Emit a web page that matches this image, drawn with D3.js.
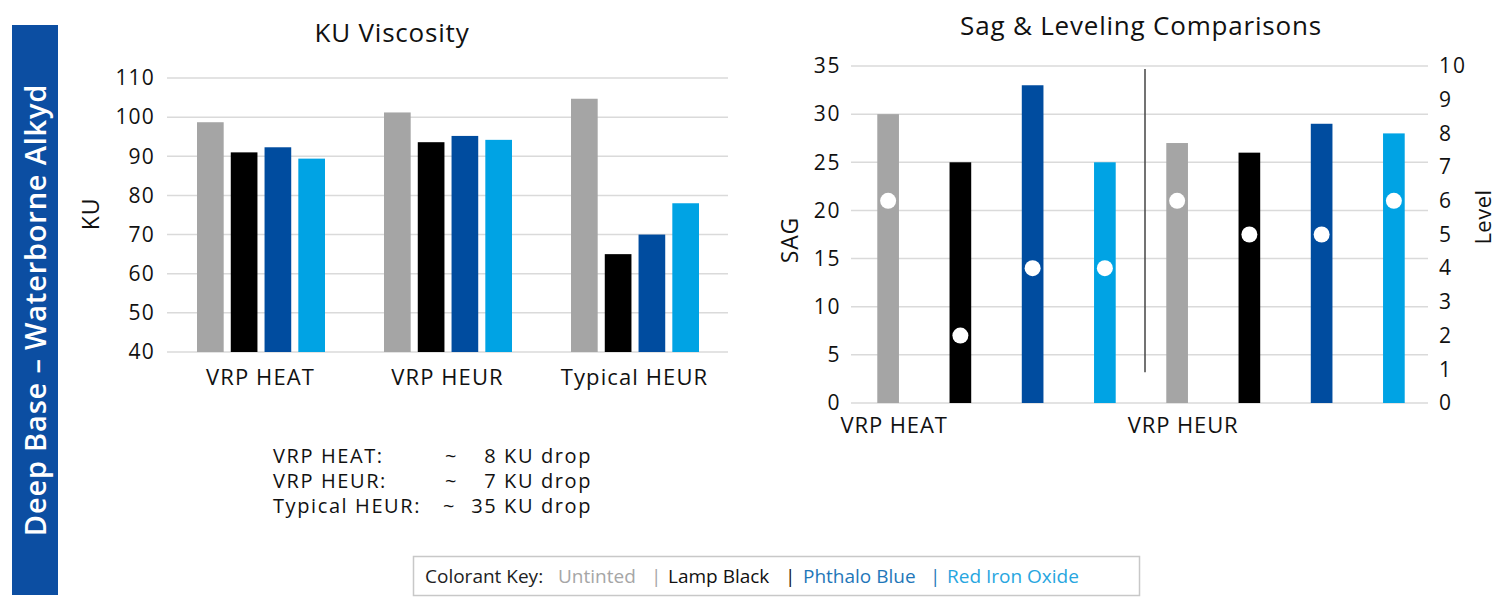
<!DOCTYPE html>
<html>
<head>
<meta charset="utf-8">
<script src="https://cdn.jsdelivr.net/npm/d3@7"></script>
<style>
  html, body { margin: 0; padding: 0; background: #fff; }
  svg { display: block; font-family: "Open Sans", sans-serif; }
</style>
</head>
<body>
<svg id="chart" width="1500" height="608"></svg>
<script>
// ---------- DATA ----------
const series = ["Untinted", "Lamp Black", "Phthalo Blue", "Red Iron Oxide"];
const seriesColors = ["#a5a5a5", "#000000", "#004c9f", "#00a3e4"];

const kuCategories = ["VRP HEAT", "VRP HEUR", "Typical HEUR"];
const kuUntinted   = [98.7, 101.2, 104.7];
const kuLampBlack  = [91, 93.6, 65];
const kuPhthalo    = [92.3, 95.2, 70];
const kuRedIron    = [89.4, 94.2, 78];
const kuTicks = [40, 50, 60, 70, 80, 90, 100, 110];

const sagGroups = ["VRP HEAT", "VRP HEUR"];
const sagValues = [[30, 25, 33, 25], [27, 26, 29, 28]];
const levelValues = [[6, 2, 4, 4], [6, 5, 5, 6]];
const sagTicks = [0, 5, 10, 15, 20, 25, 30, 35];
const levelTicks = [0, 1, 2, 3, 4, 5, 6, 7, 8, 9, 10];
const separatorRange = [3.2, 34.7]; // SAG units spanned by divider line

const dropLabels = ["VRP HEAT:", "VRP HEUR:", "Typical HEUR:"];
const dropValues = ["8 KU drop", "7 KU drop", "35 KU drop"];

const legendItems = [
  { text: "Colorant Key:", color: "#222222" },
  { text: "Untinted", color: "#a6a6a6" },
  { text: "|", color: "#a6a6a6" },
  { text: "Lamp Black", color: "#111111" },
  { text: "|", color: "#111111" },
  { text: "Phthalo Blue", color: "#1f77b9" },
  { text: "|", color: "#1f77b9" },
  { text: "Red Iron Oxide", color: "#27a6df" }
];

const svg = d3.select("#chart");
const gridColor = "#dadada";
const ink = "#111";

// ---------- BANNER ----------
svg.append("rect").attr("x", 12).attr("y", 25).attr("width", 46).attr("height", 570)
  .attr("fill", "#0c4ea2");
svg.append("text")
  .attr("transform", "translate(46,310) rotate(-90)")
  .attr("text-anchor", "middle")
  .attr("fill", "#fff")
  .attr("font-size", 29).attr("font-weight", 600).attr("letter-spacing", 0.8)
  .text("Deep Base \u2013 Waterborne Alkyd");

// ---------- LEFT CHART: KU Viscosity ----------
const kuData = kuCategories.map((c, i) => ({
  cat: c, vals: [kuUntinted[i], kuLampBlack[i], kuPhthalo[i], kuRedIron[i]]
}));
const x0 = d3.scaleBand().domain(kuCategories).range([167, 728]).padding(0);
const x1 = d3.scaleBand().domain(series).range([30, 158]).paddingInner(0.21);
const yKU = d3.scaleLinear().domain([40, 110]).range([352, 78]);

const left = svg.append("g");
left.append("g").selectAll("line").data(kuTicks).join("line")
  .attr("x1", 167).attr("x2", 728)
  .attr("y1", d => yKU(d)).attr("y2", d => yKU(d))
  .attr("stroke", gridColor).attr("stroke-width", 1.5);

const yAxisL = d3.axisLeft(yKU).tickValues(kuTicks).tickSize(0).tickPadding(0);
left.append("g").attr("transform", "translate(155,0)").call(yAxisL)
  .call(g => g.select(".domain").remove())
  .selectAll("text").attr("font-size", 21).attr("letter-spacing", 1.2)
  .attr("fill", ink).attr("font-family", "Open Sans");

left.append("g").selectAll("g").data(kuData).join("g")
  .attr("transform", d => `translate(${x0(d.cat)},0)`)
  .selectAll("rect").data(d => d.vals.map((v, j) => ({ s: series[j], v, j }))).join("rect")
  .attr("x", d => x1(d.s)).attr("width", x1.bandwidth())
  .attr("y", d => yKU(d.v)).attr("height", d => yKU(40) - yKU(d.v))
  .attr("fill", d => seriesColors[d.j]);

const xAxisL = d3.axisBottom(x0).tickSize(0).tickPadding(0);
left.append("g").attr("transform", "translate(0,385)").call(xAxisL)
  .call(g => g.select(".domain").remove())
  .selectAll("text").attr("dy", 0).attr("font-size", 22).attr("letter-spacing", 1.1)
  .attr("fill", ink).attr("font-family", "Open Sans");

left.append("text").attr("x", 392).attr("y", 42).attr("text-anchor", "middle")
  .attr("font-size", 26).attr("letter-spacing", 0.8).attr("fill", ink).text("KU Viscosity");
left.append("text").attr("transform", "translate(99,214) rotate(-90)").attr("text-anchor", "middle")
  .attr("font-size", 23).attr("letter-spacing", 0.8).attr("fill", ink).text("KU");

// drop notes
const notes = svg.append("g").attr("font-size", 20).attr("letter-spacing", 1.6).attr("fill", ink);
notes.selectAll("text.lab").data(dropLabels).join("text").attr("class", "lab")
  .attr("x", 273).attr("y", (d, i) => 463 + i * 25).text(d => d);
notes.selectAll("text.tilde").data(dropValues).join("text").attr("class", "tilde")
  .attr("x", (d, i) => i < 2 ? 445 : 443).attr("y", (d, i) => 463 + i * 25).text("~");
notes.selectAll("text.val").data(dropValues).join("text").attr("class", "val")
  .attr("x", 592).attr("y", (d, i) => 463 + i * 25).attr("text-anchor", "end").text(d => d);

// ---------- RIGHT CHART: Sag & Leveling ----------
const slots = [];
sagGroups.forEach((g, gi) => series.forEach((s, si) => slots.push({
  id: g + "|" + s, group: g, gi, si, sag: sagValues[gi][si], level: levelValues[gi][si]
})));
const xs = d3.scaleBand().domain(slots.map(d => d.id)).range([852, 1430])
  .paddingInner(0.7).paddingOuter(0.35);
const ySag = d3.scaleLinear().domain([0, 35]).range([403, 66]);
const yLev = d3.scaleLinear().domain([0, 10]).range([403, 66]);

const right = svg.append("g");
right.append("g").selectAll("line").data(sagTicks).join("line")
  .attr("x1", 851).attr("x2", 1428)
  .attr("y1", d => ySag(d)).attr("y2", d => ySag(d))
  .attr("stroke", gridColor).attr("stroke-width", 1.5);

right.append("g").attr("transform", "translate(841,0)")
  .call(d3.axisLeft(ySag).tickValues(sagTicks).tickSize(0).tickPadding(0))
  .call(g => g.select(".domain").remove())
  .selectAll("text").attr("font-size", 21).attr("letter-spacing", 1.6)
  .attr("fill", ink).attr("font-family", "Open Sans");

right.append("g").attr("transform", "translate(1439,0)")
  .call(d3.axisRight(yLev).tickValues(levelTicks).tickSize(0).tickPadding(0))
  .call(g => g.select(".domain").remove())
  .selectAll("text").attr("font-size", 21).attr("letter-spacing", 2)
  .attr("fill", ink).attr("font-family", "Open Sans");

right.append("g").selectAll("rect").data(slots).join("rect")
  .attr("x", d => xs(d.id)).attr("width", xs.bandwidth())
  .attr("y", d => ySag(d.sag)).attr("height", d => ySag(0) - ySag(d.sag))
  .attr("fill", d => seriesColors[d.si]);

right.append("g").selectAll("circle").data(slots).join("circle")
  .attr("cx", d => xs(d.id) + xs.bandwidth() / 2).attr("cy", d => yLev(d.level))
  .attr("r", 8).attr("fill", "#fff");

// separator line between groups
const sepX = (xs(slots[3].id) + xs.bandwidth() + xs(slots[4].id)) / 2 + 4;
right.append("line").attr("x1", sepX).attr("x2", sepX)
  .attr("y1", ySag(separatorRange[1])).attr("y2", ySag(separatorRange[0]))
  .attr("stroke", "#444").attr("stroke-width", 1.5);

// group labels
right.append("g").selectAll("text").data(sagGroups).join("text")
  .attr("x", (d, i) => xs(slots[i * 4].id) + xs.bandwidth() / 2 + 6)
  .attr("y", 433).attr("text-anchor", "middle")
  .attr("font-size", 22).attr("letter-spacing", 0.9).attr("fill", ink).text(d => d);

right.append("text").attr("x", 1141).attr("y", 35).attr("text-anchor", "middle")
  .attr("font-size", 26).attr("letter-spacing", 0.8).attr("fill", ink).text("Sag & Leveling Comparisons");
right.append("text").attr("transform", "translate(798,240) rotate(-90)").attr("text-anchor", "middle")
  .attr("font-size", 23).attr("letter-spacing", 0.8).attr("fill", ink).text("SAG");
right.append("text").attr("transform", "translate(1491,217) rotate(-90)").attr("text-anchor", "middle")
  .attr("font-size", 22).attr("letter-spacing", 0.5).attr("fill", ink).text("Level");

// ---------- LEGEND ----------
svg.append("rect").attr("x", 413.5).attr("y", 556.5).attr("width", 726).attr("height", 39)
  .attr("fill", "#fff").attr("stroke", "#c8c8c8").attr("stroke-width", 1.5);
const legendX = [425, 558, 651, 668, 785, 803, 930, 947];
svg.append("g").selectAll("text").data(legendItems).join("text")
  .attr("x", (d, i) => legendX[i]).attr("y", 583)
  .attr("font-size", 19).attr("fill", d => d.color).text(d => d.text);
</script>
</body>
</html>
